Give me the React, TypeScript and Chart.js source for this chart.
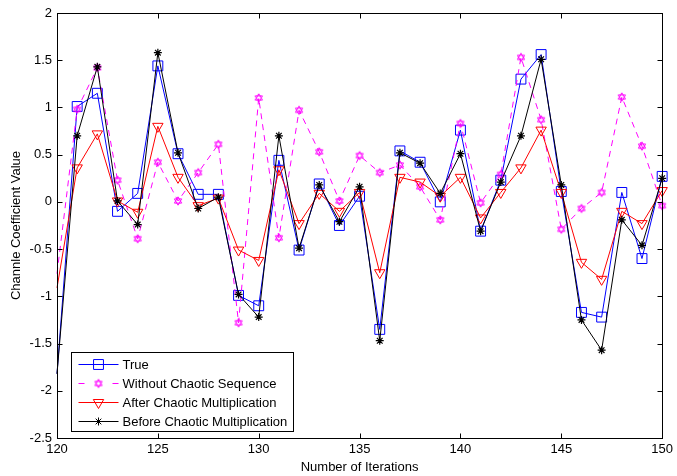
import React, { useEffect, useRef } from 'react';
import { Chart, registerables } from 'chart.js';
import { drawPoint } from 'chart.js/helpers';

Chart.register(...registerables);

const iterations = [120, 121, 122, 123, 124, 125, 126, 127, 128, 129, 130, 131, 132, 133, 134, 135, 136, 137, 138, 139, 140, 141, 142, 143, 144, 145, 146, 147, 148, 149, 150];
const trueValues = [-1.82, 1.01, 1.15, -0.10, 0.09, 1.44, 0.51, 0.08, 0.08, -0.99, -1.10, 0.44, -0.51, 0.19, -0.25, 0.06, -1.35, 0.54, 0.42, 0.00, 0.76, -0.31, 0.23, 1.30, 1.56, 0.11, -1.17, -1.22, 0.10, -0.60, 0.27];
const withoutChaotic = [-0.76, 0.98, 1.42, 0.23, -0.39, 0.42, 0.01, 0.31, 0.61, -1.28, 1.10, -0.38, 0.97, 0.53, 0.01, 0.49, 0.31, 0.39, 0.16, -0.19, 0.83, -0.01, 0.29, 1.53, 0.87, -0.29, -0.07, 0.10, 1.11, 0.59, -0.04];
const afterChaotic = [-0.91, 0.36, 0.72, 0.01, -0.11, 0.80, 0.26, -0.04, 0.04, -0.51, -0.62, 0.34, -0.23, 0.09, -0.10, 0.10, -0.75, 0.26, 0.21, 0.06, 0.26, -0.17, 0.10, 0.36, 0.76, 0.10, -0.64, -0.82, -0.10, -0.23, 0.12];
const beforeChaotic = [-1.82, 0.70, 1.43, 0.01, -0.24, 1.58, 0.52, -0.07, 0.05, -0.98, -1.22, 0.70, -0.49, 0.18, -0.21, 0.16, -1.47, 0.52, 0.41, 0.09, 0.51, -0.31, 0.21, 0.70, 1.51, 0.18, -1.25, -1.57, -0.19, -0.46, 0.25];
const seriesLabels = ['True', 'Without Chaotic Sequence', 'After Chaotic Multiplication', 'Before Chaotic Multiplication'];

const FONT = '"Liberation Sans", Arial, Helvetica, sans-serif';

function makeHexagram(color: string, r: number): HTMLCanvasElement {
  const size = Math.ceil(r * 2 + 3);
  const c = document.createElement('canvas');
  c.width = size;
  c.height = size;
  const ctx = c.getContext('2d')!;
  const cx = size / 2;
  const cy = size / 2;
  ctx.strokeStyle = color;
  ctx.lineWidth = 1;
  for (const rot of [-Math.PI / 2, Math.PI / 2]) {
    ctx.beginPath();
    for (let i = 0; i < 3; i++) {
      const a = rot + (i * 2 * Math.PI) / 3;
      const x = cx + r * Math.cos(a);
      const y = cy + r * Math.sin(a);
      if (i === 0) ctx.moveTo(x, y);
      else ctx.lineTo(x, y);
    }
    ctx.closePath();
    ctx.stroke();
  }
  return c;
}

const toPoints = (vals: number[]) => iterations.map((x, i) => ({ x, y: vals[i] }));

const frameAndTicks = {
  id: 'frameAndTicks',
  afterDatasetsDraw(chart: any) {
    const { ctx, chartArea: a, scales } = chart;
    const L = Math.round(a.left) + 0.5;
    const R = Math.round(a.right) + 0.5;
    const T = Math.round(a.top) + 0.5;
    const B = Math.round(a.bottom) + 0.5;
    const len = 5;
    ctx.save();
    ctx.strokeStyle = '#000';
    ctx.lineWidth = 1;
    ctx.beginPath();
    for (const t of scales.x.ticks) {
      const px = Math.round(scales.x.getPixelForValue(t.value)) + 0.5;
      ctx.moveTo(px, B); ctx.lineTo(px, B - len);
      ctx.moveTo(px, T); ctx.lineTo(px, T + len);
    }
    for (const t of scales.y.ticks) {
      const py = Math.round(scales.y.getPixelForValue(t.value)) + 0.5;
      ctx.moveTo(L, py); ctx.lineTo(L + len, py);
      ctx.moveTo(R, py); ctx.lineTo(R - len, py);
    }
    ctx.stroke();
    ctx.strokeRect(L, T, R - L, B - T);
    ctx.restore();
  },
};

const customLegend = {
  id: 'customLegend',
  afterDraw(chart: any) {
    const { ctx, chartArea: a } = chart;
    const left = Math.round(a.left) + 14.5;
    const width = 222;
    const height = 79;
    const top = Math.round(a.bottom) - 7 - height + 0.5;
    ctx.save();
    ctx.fillStyle = '#fff';
    ctx.fillRect(left, top, width, height);
    ctx.strokeStyle = '#000';
    ctx.lineWidth = 1;
    ctx.strokeRect(left, top, width, height);
    ctx.font = `13px ${FONT}`;
    ctx.textBaseline = 'middle';
    ctx.textAlign = 'left';
    chart.data.datasets.forEach((ds: any, i: number) => {
      const y = Math.round(top + 11 + i * 19) + 0.5;
      const x0 = left + 7;
      const x1 = left + 47;
      const xm = (x0 + x1) / 2;
      ctx.strokeStyle = ds.borderColor;
      ctx.lineWidth = 1;
      ctx.beginPath();
      if (ds.borderDash && ds.borderDash.length) {
        ctx.moveTo(x0, y); ctx.lineTo(x0 + 6, y);
        ctx.moveTo(x1 - 6, y); ctx.lineTo(x1, y);
      } else {
        ctx.moveTo(x0, y); ctx.lineTo(x1, y);
      }
      ctx.stroke();
      ctx.fillStyle = 'rgba(0,0,0,0)';
      drawPoint(ctx, { pointStyle: ds.pointStyle, radius: ds.legendRadius, rotation: ds.pointRotation || 0, borderWidth: 1 } as any, xm, y);
      ctx.fillStyle = '#000';
      ctx.fillText(ds.label, left + 51, y + 0.5);
    });
    ctx.restore();
  },
};

export default function App() {
  const canvasRef = useRef<HTMLCanvasElement | null>(null);

  useEffect(() => {
    document.body.style.margin = '0';
    const canvas = canvasRef.current!;
    const hexagram = makeHexagram('#ff00ff', 4.2);
    const hideFirst = (r: number) => (c: any) => (c.dataIndex === 0 ? 0 : r);

    const chart = new Chart(canvas, {
      type: 'line',
      data: {
        datasets: [
          {
            label: seriesLabels[0],
            data: toPoints(trueValues),
            borderColor: '#0000ff',
            borderWidth: 1,
            pointStyle: 'rect',
            pointRadius: hideFirst(7),
            legendRadius: 7,
            pointBorderColor: '#0000ff',
            pointBackgroundColor: 'rgba(0,0,0,0)',
            pointBorderWidth: 1,
            order: 4,
            clip: false,
          } as any,
          {
            label: seriesLabels[1],
            data: toPoints(withoutChaotic),
            borderColor: '#ff00ff',
            borderWidth: 1,
            borderDash: [6, 5],
            pointStyle: hexagram,
            pointRadius: hideFirst(5),
            legendRadius: 5,
            pointBorderColor: '#ff00ff',
            pointBackgroundColor: 'rgba(0,0,0,0)',
            order: 3,
            clip: false,
          } as any,
          {
            label: seriesLabels[2],
            data: toPoints(afterChaotic),
            borderColor: '#ff0000',
            borderWidth: 1,
            pointStyle: 'triangle',
            pointRotation: 180,
            pointRadius: hideFirst(6),
            legendRadius: 6,
            pointBorderColor: '#ff0000',
            pointBackgroundColor: 'rgba(0,0,0,0)',
            pointBorderWidth: 1,
            order: 2,
            clip: false,
          } as any,
          {
            label: seriesLabels[3],
            data: toPoints(beforeChaotic),
            borderColor: '#000000',
            borderWidth: 1,
            pointStyle: 'star',
            pointRadius: hideFirst(4),
            legendRadius: 4,
            pointBorderColor: '#000000',
            pointBackgroundColor: 'rgba(0,0,0,0)',
            pointBorderWidth: 1.2,
            order: 1,
            clip: false,
          } as any,
        ],
      },
      options: {
        responsive: false,
        animation: false,
        devicePixelRatio: 1,
        layout: { padding: { top: 13, right: 13, left: 0, bottom: 0 } },
        plugins: { legend: { display: false }, tooltip: { enabled: false } },
        elements: { line: { tension: 0 } },
        scales: {
          x: {
            type: 'linear',
            min: 120,
            max: 150,
            afterFit: (s: any) => { s.height = 38; },
            grid: { display: false, drawTicks: false },
            border: { display: false },
            ticks: {
              stepSize: 5,
              padding: 4,
              color: '#000',
              font: { family: FONT, size: 13 },
              callback: (v: any) => String(v),
              maxRotation: 0,
              autoSkip: false,
            },
            title: {
              display: true,
              text: 'Number of Iterations',
              color: '#000',
              font: { family: FONT, size: 13 },
              padding: { top: 0, bottom: 1 },
            },
          },
          y: {
            type: 'linear',
            min: -2.5,
            max: 2,
            afterFit: (s: any) => { s.width = 57; },
            grid: { display: false, drawTicks: false },
            border: { display: false },
            ticks: {
              stepSize: 0.5,
              padding: 5,
              color: '#000',
              font: { family: FONT, size: 13 },
              callback: (v: any) => String(v),
              autoSkip: false,
            },
            title: {
              display: true,
              text: 'Channle Coefficient Value',
              color: '#000',
              font: { family: FONT, size: 13 },
              padding: { top: 9, bottom: 0 },
            },
          },
        },
      } as any,
      plugins: [frameAndTicks, customLegend],
    });
    return () => chart.destroy();
  }, []);

  return (
    <div style={{ width: 677, height: 476 }}>
      <canvas ref={canvasRef} width={677} height={476} style={{ width: 677, height: 476, display: 'block' }} />
    </div>
  );
}
